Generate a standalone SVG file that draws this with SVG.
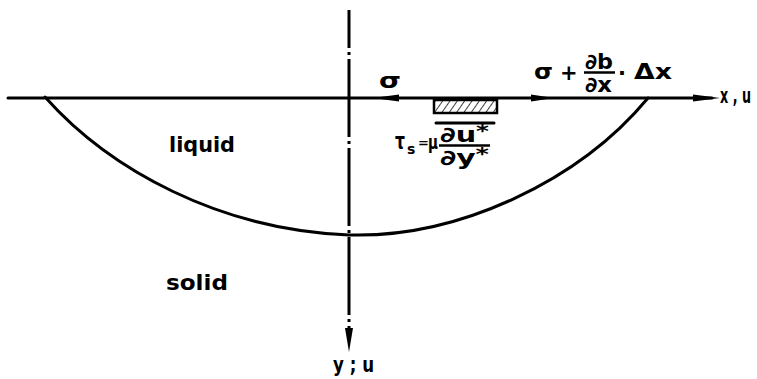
<svg xmlns="http://www.w3.org/2000/svg" width="757" height="379" viewBox="0 0 757 379">
<style>
text{font-family:"DejaVu Sans","Liberation Sans",sans-serif;font-weight:bold;fill:#000}
.t{font-size:21px}
.m{font-size:21px}
.ln{stroke:#000;stroke-width:3;fill:none;stroke-linecap:round}
.bar{stroke:#000;stroke-width:2.5}
</style>
<defs>
<pattern id="hatch" patternUnits="userSpaceOnUse" width="6" height="6" patternTransform="rotate(35)">
<line x1="0" y1="0" x2="0" y2="6" stroke="#000" stroke-width="1.5"/>
</pattern>
</defs>
<rect width="757" height="379" fill="#fff"/>
<g id="connectors">
<line class="ln" x1="8" y1="98" x2="712" y2="98"/>
<polygon points="720,98 693,94.5 693,101.5" fill="#000"/>
<polygon points="373,98 399,94.5 399,101.5" fill="#000"/>
<polygon points="554,98 531,94.5 531,101.5" fill="#000"/>
<line x1="349" y1="10" x2="349" y2="332" stroke="#000" stroke-width="3" stroke-dasharray="38 4 3 4 78 4 3 4 78 4 3 4 78 4 3 4"/>
<polygon points="349,352 345,328 353,328" fill="#000"/>
</g>
<g id="pool">
<path class="ln" d="M45,97 C110,170 220,230 349,235 C460,238 580,180 648,98"/>
</g>
<g id="element">
<rect x="434" y="100" width="63" height="13" fill="url(#hatch)" stroke="#000" stroke-width="2.5"/>
<line class="ln" x1="436" y1="123" x2="494" y2="123"/>
</g>
<g id="labels">
<text class="m" x="379" y="88" font-size="24" textLength="22" lengthAdjust="spacingAndGlyphs">σ</text>
<text class="m" x="534" y="79" font-size="23" textLength="19" lengthAdjust="spacingAndGlyphs">σ</text>
<text class="m" x="560" y="80" font-size="24">+</text>
<text class="m" x="585" y="69" textLength="28" lengthAdjust="spacingAndGlyphs">∂b</text>
<line class="bar" x1="584" y1="72.5" x2="615" y2="72.5"/>
<text class="m" x="585" y="92" textLength="27" lengthAdjust="spacingAndGlyphs">∂x</text>
<text class="m" x="618" y="80">·</text>
<text class="m" x="634" y="79" textLength="38" lengthAdjust="spacingAndGlyphs">Δx</text>
<text class="m" x="720" y="103" textLength="31" lengthAdjust="spacingAndGlyphs">x , u</text>
<text class="t" x="169" y="152" textLength="66" lengthAdjust="spacingAndGlyphs">liquid</text>
<text class="t" x="166" y="290" textLength="62" lengthAdjust="spacingAndGlyphs">solid</text>
<text class="m" x="333" y="372" font-size="22" textLength="41" lengthAdjust="spacingAndGlyphs">y ; u</text>
<text x="395" y="149" font-size="23" textLength="10" lengthAdjust="spacingAndGlyphs">τ</text>
<text x="407" y="154" font-size="14">s</text>
<text x="418" y="147" font-size="13">=</text>
<text x="428" y="149" font-size="19" textLength="10" lengthAdjust="spacingAndGlyphs">μ</text>
<text class="m" x="440" y="142" textLength="49" lengthAdjust="spacingAndGlyphs">∂u<tspan font-size="18" dy="-5">*</tspan></text>
<line class="bar" x1="439" y1="145.5" x2="490" y2="145.5"/>
<text class="m" x="440" y="165" textLength="49" lengthAdjust="spacingAndGlyphs">∂y<tspan font-size="18" dy="-5">*</tspan></text>
</g>
</svg>
